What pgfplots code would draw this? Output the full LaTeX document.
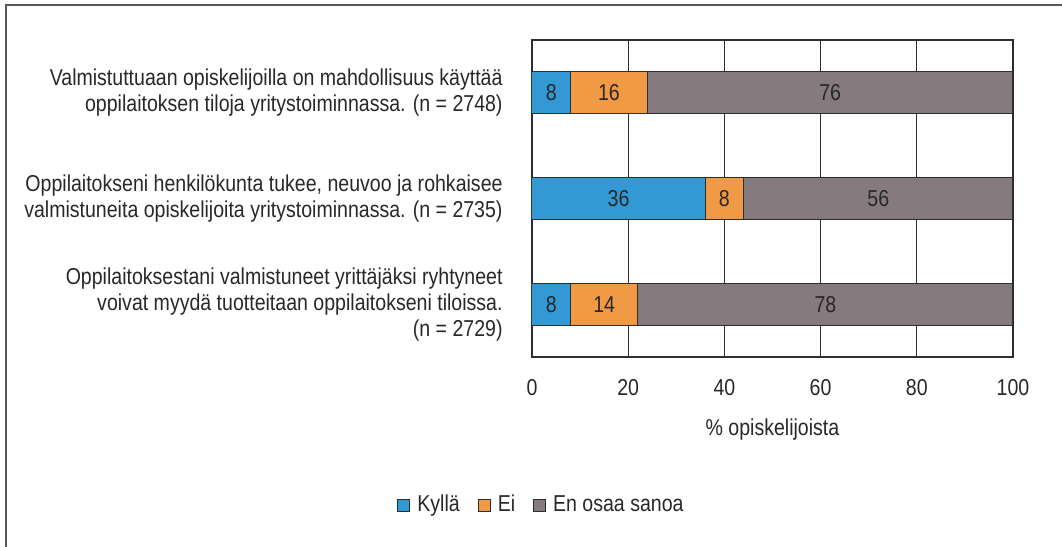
\documentclass[border=0pt]{standalone}
\usepackage{fontspec}
\setmainfont{Liberation Sans}[FakeStretch=0.85]
\usepackage{pgfplots}
\pgfplotsset{compat=1.18}
\definecolor{cblue}{RGB}{51,153,212}
\definecolor{corange}{RGB}{240,154,69}
\definecolor{cgrey}{RGB}{133,122,125}
\definecolor{cline}{RGB}{45,45,45}
\definecolor{ctext}{RGB}{40,40,40}
\begin{document}
\begin{tikzpicture}
\useasboundingbox (-266pt,-95pt) rectangle (265pt,178.5pt);
\draw[cline!80, line width=0.8pt] (-263pt,-110pt) -- (-263pt,176pt) -- (280pt,176pt);
\begin{axis}[
  scale only axis,
  width=240.5pt, height=158.5pt,
  xbar stacked,
  bar width=21pt,
  xmin=0, xmax=100,
  ymin=-0.5, ymax=2.5,
  y dir=reverse,
  ytick={0,1,2},
  yticklabels={
    {Valmistuttuaan opiskelijoilla on mahdollisuus käyttää\\oppilaitoksen tiloja yritystoiminnassa. (n = 2748)},
    {Oppilaitokseni henkilökunta tukee, neuvoo ja rohkaisee\\valmistuneita opiskelijoita yritystoiminnassa. (n = 2735)},
    {Oppilaitoksestani valmistuneet yrittäjäksi ryhtyneet\\voivat myydä tuotteitaan oppilaitokseni tiloissa.\\(n = 2729)}},
  xtick={0,20,40,60,80,100},
  major tick length=0pt,
  xmajorgrids,
  major grid style={cline, line width=0.6pt},
  axis line style={cline, line width=0.7pt},
  font=\fontsize{11.5pt}{13pt}\selectfont,
  /pgf/number format/assume math mode=true,
  xticklabel style={anchor=center, yshift=-15.5pt, text=ctext},
  yticklabel style={align=right, anchor=east, inner sep=0pt, xshift=-14.5pt, text=ctext, font=\fontsize{11.5pt}{13pt}\selectfont},
  xlabel={\% opiskelijoista},
  xlabel style={at={(axis description cs:0.5,-0.23)}, anchor=center, text=ctext},
  point meta=explicit,
  nodes near coords,
  every node near coord/.append style={text=ctext, font=\fontsize{11.5pt}{13pt}\selectfont},
  legend columns=3,
  legend style={at={(0.0218,-0.467)}, anchor=center, draw=none, fill=none,
    font=\fontsize{11.5pt}{13pt}\selectfont, text=ctext,
    /tikz/every odd column/.append style={column sep=1.5pt},
    /tikz/every even column/.append style={column sep=7pt}},
  legend image code/.code={\draw[#1, draw=cline, line width=0.5pt] (0pt,-3pt) rectangle (6pt,3pt);},
]
\addplot[fill=cblue, draw=cline, line width=0.5pt] coordinates {(8,0) [8] (36,1) [36] (8,2) [8]};
\addplot[fill=corange, draw=cline, line width=0.5pt] coordinates {(16,0) [16] (8,1) [8] (14,2) [14]};
\addplot[fill=cgrey, draw=cline, line width=0.5pt] coordinates {(76,0) [76] (56,1) [56] (78,2) [78]};
\legend{Kyllä, Ei, En osaa sanoa}
\end{axis}
\end{tikzpicture}
\end{document}
